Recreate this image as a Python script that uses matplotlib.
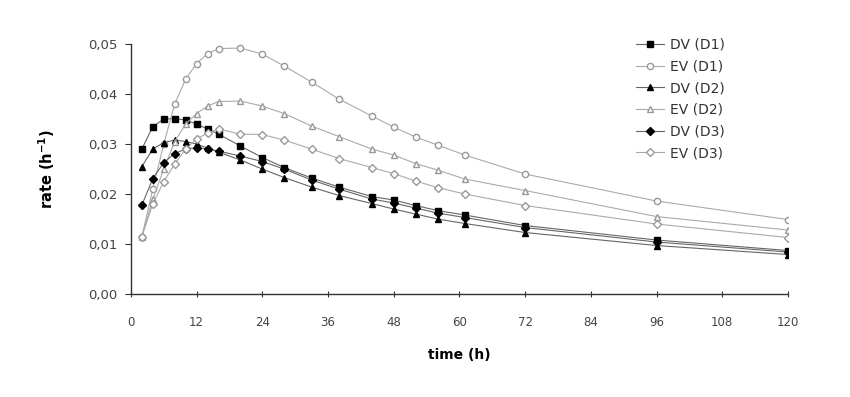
import matplotlib
matplotlib.use('Agg')
import matplotlib.pyplot as plt
from matplotlib.ticker import FuncFormatter

# sampling times (h)
time = [2, 4, 6, 8, 10, 12, 14, 16, 20, 24, 28, 33, 38, 44, 48, 52, 56, 61, 72, 96, 120]

dv_d1 = [0.0290, 0.0335, 0.0350, 0.0351, 0.0348, 0.0340, 0.0330, 0.0320, 0.0296, 0.0273, 0.0253,
         0.0232, 0.0214, 0.0195, 0.0188, 0.0177, 0.0167, 0.0158, 0.0137, 0.0108, 0.0087]
ev_d1 = [0.0115, 0.0210, 0.0300, 0.0380, 0.0430, 0.0461, 0.0481, 0.0491, 0.0492, 0.0480, 0.0456,
         0.0424, 0.0390, 0.0356, 0.0334, 0.0314, 0.0298, 0.0278, 0.0240, 0.0186, 0.0149]
dv_d2 = [0.0255, 0.0290, 0.0303, 0.0308, 0.0305, 0.0300, 0.0292, 0.0284, 0.0268, 0.0250, 0.0233,
         0.0214, 0.0197, 0.0181, 0.0170, 0.0160, 0.0150, 0.0141, 0.0123, 0.0097, 0.0079]
ev_d2 = [0.0115, 0.0190, 0.0250, 0.0305, 0.0340, 0.0361, 0.0376, 0.0385, 0.0386, 0.0376, 0.0361,
         0.0336, 0.0315, 0.0290, 0.0278, 0.0261, 0.0248, 0.0230, 0.0207, 0.0155, 0.0128]
dv_d3 = [0.0178, 0.0231, 0.0263, 0.0281, 0.0290, 0.0293, 0.0290, 0.0286, 0.0276, 0.0265, 0.0250,
         0.0228, 0.0210, 0.0190, 0.0182, 0.0172, 0.0162, 0.0153, 0.0133, 0.0104, 0.0084]
ev_d3 = [0.0115, 0.0180, 0.0225, 0.0260, 0.0290, 0.0310, 0.0322, 0.0330, 0.0320, 0.0319, 0.0308,
         0.0290, 0.0271, 0.0253, 0.0241, 0.0226, 0.0213, 0.0200, 0.0177, 0.0140, 0.0113]

fig = plt.figure(figsize=(8.5, 3.97), dpi=100)
ax = fig.add_axes([0.154, 0.2594, 0.773, 0.6296])

dv_line = '#666666'
ev_line = '#aaaaaa'
ev_edge = '#999999'

ax.plot(time, dv_d1, color=dv_line, lw=0.8, marker='s', ms=4.5, mfc='black', mec='black', label='DV (D1)')
ax.plot(time, ev_d1, color=ev_line, lw=0.8, marker='o', ms=4.5, mfc='white', mec=ev_edge, label='EV (D1)')
ax.plot(time, dv_d2, color=dv_line, lw=0.8, marker='^', ms=4.5, mfc='black', mec='black', label='DV (D2)')
ax.plot(time, ev_d2, color=ev_line, lw=0.8, marker='^', ms=4.5, mfc='white', mec=ev_edge, label='EV (D2)')
ax.plot(time, dv_d3, color=dv_line, lw=0.8, marker='D', ms=4, mfc='black', mec='black', label='DV (D3)')
ax.plot(time, ev_d3, color=ev_line, lw=0.8, marker='D', ms=4, mfc='white', mec=ev_edge, label='EV (D3)')

ax.set_xlim(0, 120)
ax.set_ylim(0, 0.05)
ax.set_xticks(range(0, 121, 12))
ax.set_yticks([0, 0.01, 0.02, 0.03, 0.04, 0.05])
ax.yaxis.set_major_formatter(FuncFormatter(lambda v, p: f'{v:.2f}'.replace('.', ',')))

for s in ['top', 'right']:
    ax.spines[s].set_visible(False)
for s in ['left', 'bottom']:
    ax.spines[s].set_color('#333333')
    ax.spines[s].set_linewidth(1.0)

ax.tick_params(axis='x', direction='inout', length=5, width=0.8, colors='#333333',
               labelsize=8.5, labelcolor='#444444', pad=13)
ax.tick_params(axis='y', direction='out', length=4, width=0.8, colors='#333333',
               labelsize=9.5, labelcolor='#444444', pad=6)

ax.set_xlabel('time (h)', fontsize=10, fontweight='bold', labelpad=14)
ax.set_ylabel('rate (h$^{\\mathbf{-1}}$)', fontsize=10.5, fontweight='bold', labelpad=22)

leg = ax.legend(loc='upper left', bbox_to_anchor=(0.75, 1.075), frameon=False, fontsize=10,
                handlelength=2.0, labelspacing=0.55, handletextpad=0.45)
for t in leg.get_texts():
    t.set_color('#333333')

fig.savefig('out.png', dpi=100)
